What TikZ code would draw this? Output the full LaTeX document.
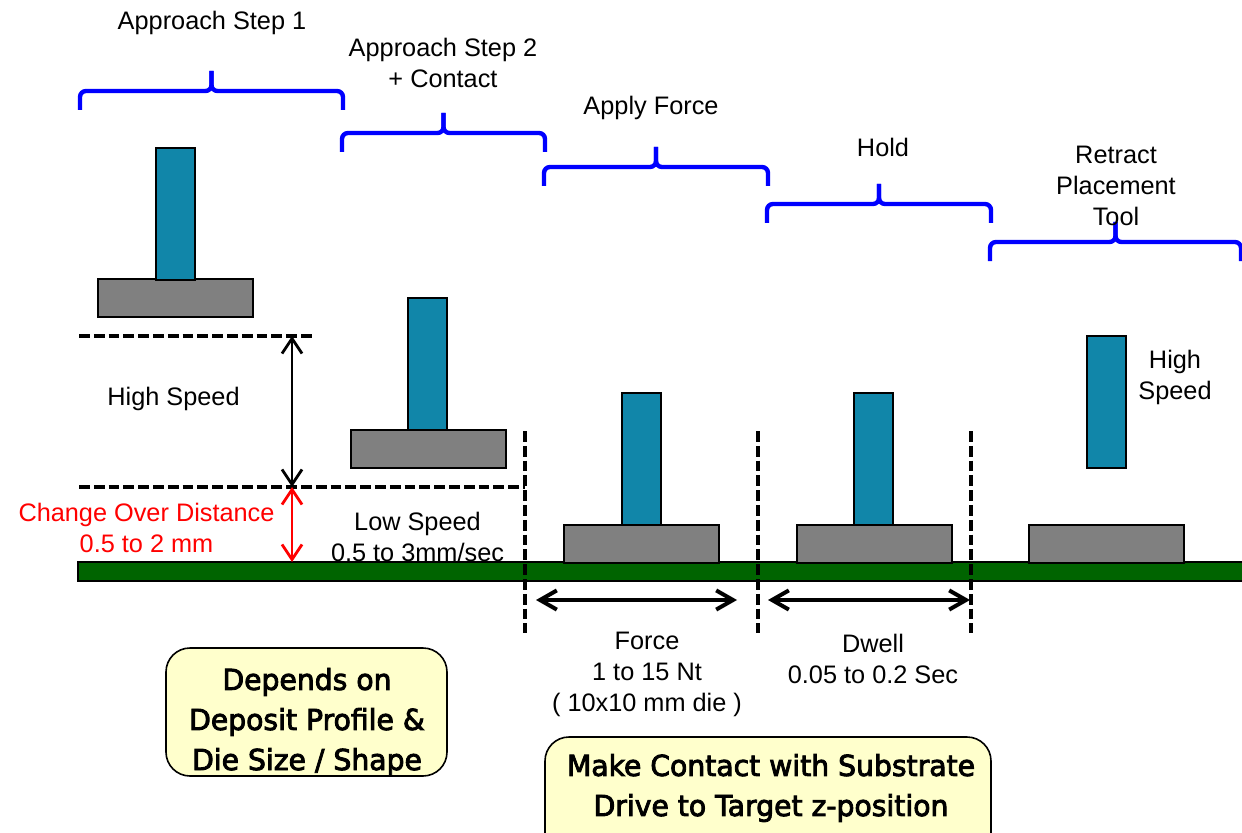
\documentclass[tikz,border=0pt]{standalone}
\usepackage{fontspec}
\setmainfont{Liberation Sans}
\newfontfamily\notefont[FakeStretch=0.98,FakeBold=3]{DejaVu Sans}
\usetikzlibrary{arrows.meta}
\definecolor{ToolBlue}{HTML}{1186A9}
\definecolor{DieGray}{HTML}{808080}
\definecolor{Board}{HTML}{006400}
\definecolor{Phase}{HTML}{0000FF}
\definecolor{Alert}{HTML}{FF0000}
\definecolor{Note}{HTML}{FFFFCC}

\begin{document}
\begin{tikzpicture}[x=.25mm,y=-.25mm,
    lbl/.style={font=\fontsize{18}{22}\selectfont,align=center},
    notetext/.style={font=\notefont\fontsize{20.5}{28.5}\selectfont,align=center},
    phase/.style={Phase,line width=1.1mm,rounded corners=1.5mm},
    tool/.style={draw,line width=.4mm,fill=ToolBlue},
    die/.style={draw,line width=.4mm,fill=DieGray},
    guide/.style={line width=.9mm,dash pattern=on 2.7mm off 1mm},
    vdim/.style={line width=.7mm,{Straight Barb[length=3.75mm,width=5mm]}-{Straight Barb[length=3.75mm,width=5mm]}},
    hdim/.style={line width=1mm,{Straight Barb[length=4.2mm,width=4.8mm]}-{Straight Barb[length=4.2mm,width=4.8mm]}},
    note/.style={draw,line width=.4mm,fill=Note,rounded corners=6mm}]
  \useasboundingbox(0,0)rectangle(1242,833);
  \clip(0,0)rectangle(1242,833);

  % step braces
  \foreach \xa/\xb/\yh in {80/343/91,342/545/133,544/768/167,767/991/204,990/1241/242}{
    \draw[phase]({\xa},{\yh+19})--({\xa},{\yh})--({(\xa+\xb)/2},{\yh})--({(\xa+\xb)/2},{\yh-20});
    \draw[phase]({\xb},{\yh+19})--({\xb},{\yh})--({(\xa+\xb)/2},{\yh})--({(\xa+\xb)/2},{\yh-20});
  }
  \node[lbl](step1)at(212,23){Approach Step 1};
  \node[lbl](step2)at(443,62.5){Approach Step 2\\+ Contact};
  \node[lbl](force)at(651,108){Apply Force};
  \node[lbl](hold)at(883,147){Hold};
  \node[lbl](retract)at(1116,185.5){Retract\\Placement\\Tool};

  % substrate, dies and placement tool heads
  \draw[fill=Board,line width=.4mm](78,562)rectangle(1250,581);
  \foreach \x/\y in {98/279,351/430,564/525,797/525,1029/525}
    \draw[die](\x,\y)rectangle++(155,38);
  \foreach \x/\y in {156/148,408/298,622/393,854/393,1087/336}
    \draw[tool](\x,\y)rectangle++(39,132);

  % speed zones
  \draw[guide](79,336)--(312,336);
  \draw[guide](79,487)--(525,487);
  \foreach \x in {525,758,971}
    \draw[guide](\x,431)--(\x,633);

  \coordinate(hi top)at(292,336);
  \coordinate(hi bot)at(292,487);
  \coordinate(lo bot)at(292,562);
  \draw[vdim](hi top)--(hi bot);
  \draw[vdim,Alert](hi bot)--(lo bot);

  \coordinate(f a)at(536,600);
  \coordinate(f b)at(737,600);
  \coordinate(d a)at(768,600);
  \coordinate(d b)at(970,600);
  \draw[hdim](f a)--(f b);
  \draw[hdim](d a)--(d b);

  \node[lbl](high)at(173.5,399){High Speed};
  \node[lbl,Alert](change)at(146.5,527.5){Change Over Distance\\0.5 to 2 mm};
  \node[lbl](low)at(417.5,536.5){Low Speed\\0.5 to 3mm/sec};
  \node[lbl](high2)at(1175,377){High\\Speed};
  \node[lbl](forcev)at(647,674){Force\\1 to 15 Nt\\( 10x10 mm die )};
  \node[lbl](dwell)at(873,658.5){Dwell\\0.05 to 0.2 Sec};

  % notes
  \draw[note](166,648)rectangle(447,776);
  \node[notetext](deposit)at(307,722){Depends on\\Deposit Profile \&\\Die Size / Shape};
  \draw[note](545,737)rectangle(991,880);
  \node[notetext](contact)at(771,788){Make Contact with Substrate\\Drive to Target z-position};
\end{tikzpicture}
\end{document}
